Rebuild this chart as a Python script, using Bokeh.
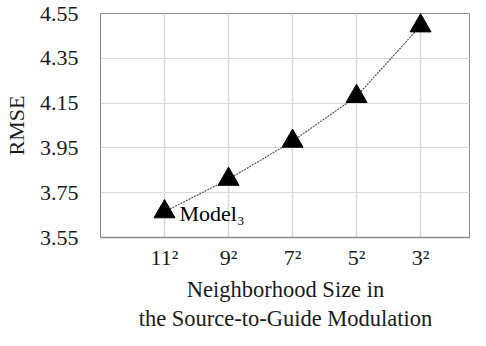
from bokeh.plotting import figure
from bokeh.models import Range1d, FixedTicker, ColumnDataSource, Title
from bokeh.core.properties import value
from bokeh.embed import file_html
from bokeh.resources import INLINE

categories = ["11²", "9²", "7²", "5²", "3²"]
rmse = [3.665, 3.81, 3.98, 4.18, 4.495]
y_ticks = [3.55, 3.75, 3.95, 4.15, 4.35, 4.55]
annot_text = ["Model₃"]
x_title_lines = ["Neighborhood Size in", "the Source-to-Guide Modulation"]
y_title = "RMSE"

xs = list(range(1, len(categories) + 1))
src = ColumnDataSource(dict(x=xs, y=rmse))
annot = ColumnDataSource(dict(x=[xs[0]], y=[rmse[0]], t=annot_text))

p = figure(width=470, height=330, output_backend="svg", toolbar_location=None,
           x_range=Range1d(0, 5.78), y_range=Range1d(3.55, 4.55),
           min_border_left=90, min_border_right=0, min_border_top=13, min_border_bottom=0)

p.outline_line_color = "#8c8c8c"
p.outline_line_width = 1
p.background_fill_color = "white"
p.border_fill_color = "white"

p.xgrid.grid_line_color = "#d9d9d9"
p.ygrid.grid_line_color = "#d9d9d9"
p.xgrid.grid_line_width = 1.5
p.ygrid.grid_line_width = 1

p.xaxis.ticker = FixedTicker(ticks=xs)
p.xaxis.major_label_overrides = {x: c for x, c in zip(xs, categories)}
p.yaxis.ticker = FixedTicker(ticks=y_ticks)
p.yaxis.major_label_overrides = {t: f"{t:.2f}" for t in y_ticks}

for ax in (p.xaxis, p.yaxis):
    ax.major_tick_line_color = None
    ax.minor_tick_line_color = None
    ax.major_label_text_font = "Liberation Serif"
    ax.major_label_text_font_size = "22px"
    ax.major_label_text_color = "#1a1a1a"
    ax.axis_label_text_font = "Liberation Serif"
    ax.axis_label_text_font_style = "normal"
    ax.axis_label_text_color = "#1a1a1a"

p.yaxis.axis_label_text_font_size = "22px"
p.xaxis.axis_line_color = "#8c8c8c"
p.xaxis.axis_line_width = 1.5
p.yaxis.axis_line_color = "#8c8c8c"
p.xaxis.major_label_standoff = 1
p.yaxis.major_label_standoff = 16
p.yaxis.axis_label = y_title
p.yaxis.axis_label_standoff = 8

title_standoffs = [4, 0]
for line, so in zip(x_title_lines, title_standoffs):
    p.add_layout(Title(text=line, align="center", text_font="Liberation Serif",
                       text_font_size="22.5px", text_font_style="normal",
                       text_color="#1a1a1a", standoff=so, offset=0), "below")

p.line("x", "y", source=src, line_color="#555555", line_width=1.2, line_dash="2 1")
p.scatter("x", "y", source=src, marker="triangle", size=21, fill_color="black", line_color="black")

p.text("x", "y", text="t", source=annot, x_offset=15, y_offset=14,
       text_font=value("Liberation Serif"), text_font_size="22px",
       text_baseline="bottom", text_color="black")

open("out.html", "w").write(file_html(p, INLINE))
